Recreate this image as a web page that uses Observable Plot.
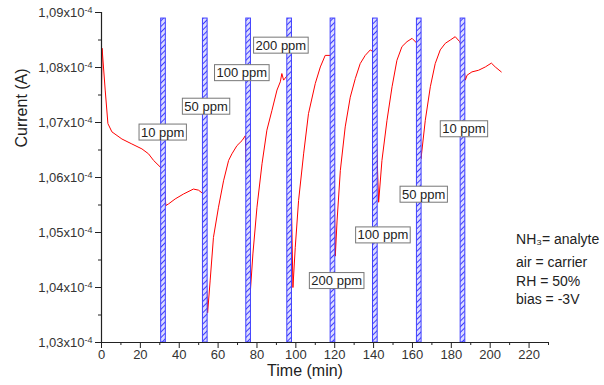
<!DOCTYPE html>
<html><head><meta charset="utf-8">
<script src="https://cdn.jsdelivr.net/npm/d3@7"></script>
<script src="https://cdn.jsdelivr.net/npm/@observablehq/plot@0.6"></script>
<style>
body{margin:0;background:#fff;}
svg{display:block;}
</style>
</head><body><div id="chart"></div>
<script>
// Current response (units of 1e-4 A) vs time (min)
const time = [0,0.3,1.9,3.3,5.35,10.5,15.6,20.8,24.2,26.8,31.1,32.3,33.1,
34.5,37.9,42.2,47.3,49.9,52.5,53.4,54.6,
55.9,57.6,60.2,62.8,65.4,67.1,69.7,72.3,74.0,76.5,
77.9,80.0,82.6,85.1,87.7,90.3,92.0,92.8,93.7,95.7,96.6,98.5,
99.7,101.4,104.0,106.5,110.0,112.6,115.1,117.7,118.7,120.3,
121.2,122.9,125.4,128.0,130.6,133.1,135.7,138.3,140.0,142.6,
144.3,146.9,149.5,152.0,154.6,157.2,159.8,162.3,164.4,
166.6,169.2,171.7,174.3,176.9,179.5,182.0,184.3,185.5,187.2,
188.1,190.6,194.0,197.5,200.6,202.6,205.7];
const current = [1.0744,1.0835,1.0759,1.0698,1.0683,1.0670,1.0661,1.0652,1.0643,1.0631,1.0616,1.0585,1.0549,
1.0552,1.0561,1.0570,1.0579,1.0577,1.0570,1.0467,1.0354,
1.0412,1.0491,1.0546,1.0594,1.0631,1.0643,1.0658,1.0667,1.0676,1.0388,
1.0461,1.0546,1.0625,1.0686,1.0722,1.0759,1.0774,1.0789,1.0777,1.0786,1.0788,1.0400,
1.0473,1.0558,1.0643,1.0716,1.0771,1.0801,1.0822,1.0822,1.0819,1.0457,
1.0521,1.0613,1.0692,1.0746,1.0780,1.0807,1.0822,1.0832,1.0828,1.0555,
1.0631,1.0704,1.0765,1.0813,1.0838,1.0847,1.0853,1.0844,1.0634,
1.0704,1.0765,1.0807,1.0832,1.0844,1.0850,1.0856,1.0847,1.0838,1.0777,
1.0786,1.0792,1.0795,1.0801,1.0808,1.0801,1.0792];

// NH3 exposure windows (min)
const exposureStart = [30.7,52.2,74.5,95.6,117.9,139.7,162.3,184.8];
const exposureEnd   = [33.1,54.6,76.9,98.0,120.3,142.1,164.7,187.2];
const exposureTop = 1.0889;

// concentration labels
const ppmLabels = ["10 ppm","50 ppm","100 ppm","200 ppm","200 ppm","100 ppm","50 ppm","10 ppm"];
const labelTime = [31.5,53.8,72.2,92.3,121.0,144.8,165.8,186.5];
const labelCurrent = [1.0682,1.0729,1.0790,1.0840,1.0412,1.0495,1.0569,1.0688];

// axes
const xTicks = [0,20,40,60,80,100,120,140,160,180,200,220];
const xMinor = [10,30,50,70,90,110,130,150,170,190,210,230];
const yTicks = [1.03,1.04,1.05,1.06,1.07,1.08,1.09];
const yMinor = [1.035,1.045,1.055,1.065,1.075,1.085];

// notes
const notes = ["NH\u2083= analyte","air = carrier","RH = 50%","bias = -3V"];
const noteTime = [213.3,213.3,213.3,213.3];
const noteCurrent = [1.0488,1.0445,1.0411,1.0378];

const series = time.map((t,i)=>({t, v: current[i]}));
const bars = exposureStart.map((s,i)=>({s, e: exposureEnd[i], lo: yTicks[0], hi: exposureTop}));
const labels = ppmLabels.map((l,i)=>({l, t: labelTime[i], v: labelCurrent[i]}));
const noteRows = notes.map((n,i)=>({n, t: noteTime[i], v: noteCurrent[i]}));

const font = "Arial, 'Liberation Sans', sans-serif";
const ink = "#222";

const chart = Plot.plot({
  width: 604, height: 385,
  marginLeft: 101, marginRight: 56, marginTop: 12, marginBottom: 43,
  style: {fontFamily: font, fontSize: "13px", color: ink, background: "#fff", overflow: "visible"},
  x: {domain: [0, 230], axis: null},
  y: {domain: [1.03, 1.09], axis: null},
  marks: [
    Plot.line(series, {x: "t", y: "v", stroke: "#ff0000", strokeWidth: 1}),
    Plot.rect(bars, {x1: "s", x2: "e", y1: "lo", y2: "hi", fill: "url(#hatch)", stroke: "#4040ff", strokeWidth: 1}),
    Plot.ruleY([1.03], {stroke: ink, strokeWidth: 1.2}),
    Plot.ruleX([0], {stroke: ink, strokeWidth: 1.2}),
    Plot.axisX({ticks: xTicks, tickSize: 6, tickPadding: 1, fontSize: 13, label: null, stroke: ink, fill: "#333"}),
    Plot.axisX({ticks: xMinor, tickSize: 3, fill: "none", stroke: ink, label: null}),
    Plot.axisY({ticks: yTicks, tickSize: 6, tickPadding: 3, fontSize: 13, label: null, stroke: ink, fill: "#333",
      tickFormat: d => d.toFixed(2).replace(".", ",") + "x10\u207B\u2074"}),
    Plot.axisY({ticks: yMinor, tickSize: 3, fill: "none", stroke: ink, label: null}),
    Plot.text(labels, {x: "t", y: "v", text: "l", fontSize: 13, fill: "#222"}),
    Plot.text(noteRows, {x: "t", y: "v", text: "n", textAnchor: "start", fontSize: 14, fill: "#222"}),
    Plot.text(["Time (min)"], {frameAnchor: "bottom", dx: -20, dy: 33, fontSize: 16, fill: "#222"}),
    Plot.text(["Current (A)"], {frameAnchor: "left", rotate: -90, dx: -80, dy: -30, fontSize: 16, fill: "#222"})
  ]
});

document.getElementById("chart").appendChild(chart);
const svg = d3.select(chart);

// hatch pattern for exposure windows
const defs = svg.insert("defs", ":first-child");
const pat = defs.append("pattern").attr("id", "hatch").attr("patternUnits", "userSpaceOnUse")
  .attr("width", 4).attr("height", 4).attr("patternTransform", "rotate(45)");
pat.append("rect").attr("width", 4).attr("height", 4).attr("fill", "#dcdcff");
pat.append("line").attr("x1", 0.5).attr("y1", 0).attr("x2", 0.5).attr("y2", 4)
  .attr("stroke", "#2a2aff").attr("stroke-width", 0.9);

// boxes behind concentration labels
svg.selectAll("text").each(function() {
  if (!/ppm$/.test(this.textContent)) return;
  try {
    const b = this.getBBox();
    const r = document.createElementNS("http://www.w3.org/2000/svg", "rect");
    r.setAttribute("x", b.x - 2);
    r.setAttribute("y", b.y - 0.5);
    r.setAttribute("width", b.width + 4);
    r.setAttribute("height", b.height + 1);
    r.setAttribute("fill", "#fff");
    r.setAttribute("stroke", "#777");
    r.setAttribute("stroke-width", 1);
    const tr = this.getAttribute("transform");
    if (tr) r.setAttribute("transform", tr);
    this.parentNode.insertBefore(r, this);
  } catch (e) {}
});

// superscript exponent on y tick labels
svg.selectAll("text").each(function() {
  const s = this.textContent;
  const k = s.indexOf("x10\u207B");
  if (k < 0) return;
  this.textContent = s.slice(0, k + 3);
  d3.select(this).append("tspan").attr("dy", "-0.45em").attr("font-size", 9).text("-4");
});
</script>
</body></html>
